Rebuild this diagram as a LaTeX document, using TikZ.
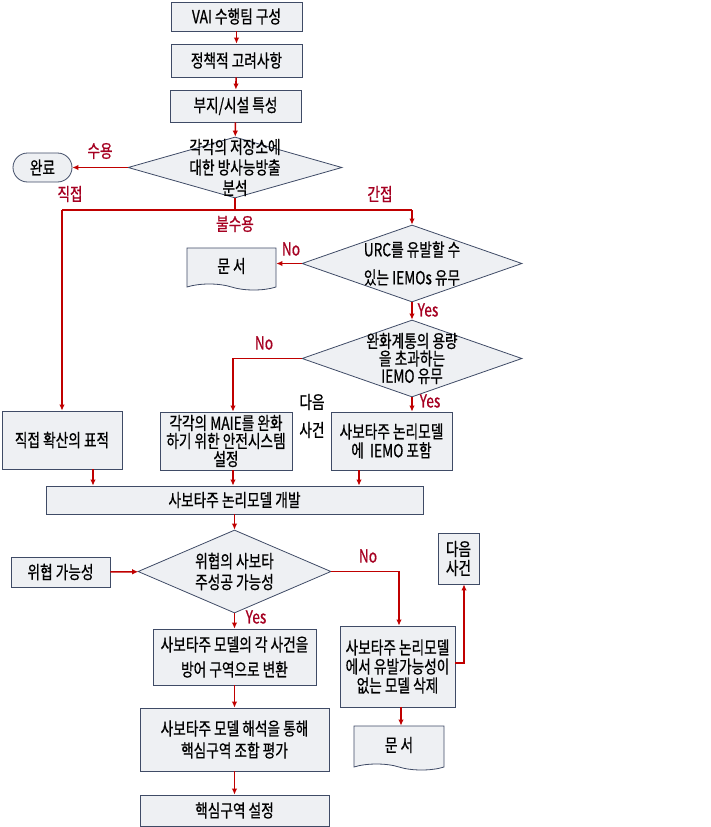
\documentclass[tikz,border=0pt]{standalone}
\usepackage{fontspec}
\setmainfont{Noto Sans CJK KR}[FakeStretch=0.76, FakeBold=0.7]
\usepackage{xcolor}
\usepackage{tikz}
\usetikzlibrary{positioning, shapes.geometric, shapes.misc, shapes.symbols, arrows.meta}

\definecolor{boxfill}{HTML}{EEF0F3}
\definecolor{boxline}{HTML}{3F4B66}
\definecolor{flowred}{HTML}{C00000}
\definecolor{labelred}{HTML}{A50021}

\begin{document}
\begin{tikzpicture}[
    x=1pt, y=-1pt,
    font=\fontsize{18}{19}\selectfont,
    block/.style={rectangle, draw=boxline, line width=0.8pt, fill=boxfill, align=center, inner sep=0pt},
    decision/.style={diamond, draw=boxline, line width=0.8pt, fill=boxfill, inner sep=0pt},
    endpoint/.style={rounded rectangle, draw=boxline, line width=0.8pt, fill=boxfill, inner sep=0pt},
    docu/.style={tape, tape bend top=none, tape bend bottom=out and in, tape bend height=6pt, draw=boxline, line width=0.8pt, fill=boxfill, align=center, inner sep=0pt},
    flow/.style={draw=flowred, line width=1.6pt, -{Latex[length=6pt,width=5.5pt]}},
    line/.style={draw=flowred, line width=1.6pt},
    tag/.style={text=labelred, inner sep=0pt}
]
\useasboundingbox (0,0) rectangle (711,827);

% top chain
\node [block, minimum width=131pt, minimum height=29pt] (team) at (236.5,16.5) {VAI 수행팀 구성};
\node [block, minimum width=131pt, minimum height=33pt] (policy) at (236.5,60.5) {정책적 고려사항};
\node [block, minimum width=131pt, minimum height=32pt] (site) at (235.5,106) {부지/시설 특성};
\node [decision, minimum width=214pt, minimum height=61pt,
       label={[align=center, font=\fontsize{18}{20.5}\selectfont]center:각각의 저장소에\\대한 방사능방출\\분석}] (anal) at (235,167.5) {};
\node [endpoint, minimum width=59pt, minimum height=29pt] (done) at (42.5,167.5) {완료};

% indirect branch
\node [decision, minimum width=220pt, minimum height=77pt,
       label={[align=center]center:URC를 유발할 수\\[9pt]있는 IEMOs 유무}] (iemo) at (412,263.5) {};
\node [docu, minimum width=89pt, minimum height=42pt] (docA) at (231.5,266) {문 서};
\node [decision, minimum width=220pt, minimum height=77pt,
       label={[align=center, font=\fontsize{18}{17.5}\selectfont]center:완화계통의 용량\\을 초과하는\\IEMO 유무}] (cap) at (412,358.5) {};

% third row
\node [block, minimum width=120pt, minimum height=58pt] (direct) at (62,440) {직접 확산의 표적};
\node [block, minimum width=132pt, minimum height=58pt] (maie) at (226,441) {각각의 MAIE를 완화\\[-1pt]하기 위한 안전시스템\\[-1pt]설정};
\node [align=center, inner sep=0pt] (nextlbl) at (312,416) {다음\\[9pt]사건};
\node [block, minimum width=121pt, minimum height=58pt] (incl) at (391.5,441) {사보타주 논리모델\\에 \ IEMO 포함};
\node [block, minimum width=377pt, minimum height=28pt] (dev) at (234.5,500) {사보타주 논리모델 개발};

% sabotage check
\node [decision, minimum width=193pt, minimum height=83pt,
       label={[align=center, font=\fontsize{18}{21}\selectfont]center:위협의 사보타\\주성공 가능성}] (threat) at (234.5,571.5) {};
\node [block, minimum width=99pt, minimum height=30pt] (threatsrc) at (60.5,572) {위협 가능성};
\node [block, minimum width=41pt, minimum height=51pt] (nextev) at (458.5,558.5) {다음\\사건};
\node [block, minimum width=115pt, minimum height=81pt] (remove) at (397.5,666.5) {사보타주 논리모델\\에서 유발가능성이\\없는 모델 삭제};
\node [docu, minimum width=90pt, minimum height=44pt] (docB) at (399,745) {문 서};
\node [block, minimum width=163pt, minimum height=56pt] (conv) at (234.5,657) {사보타주 모델의 각 사건을\\[6pt]방어 구역으로 변환};
\node [block, minimum width=189pt, minimum height=63pt] (eval) at (234.5,739.5) {사보타주 모델 해석을 통해\\[3pt]핵심구역 조합 평가};
\node [block, minimum width=189pt, minimum height=31pt] (zone) at (234.5,810.5) {핵심구역 설정};

% branch points
\coordinate (splitL) at (62,210);
\coordinate (splitR) at (412,210);

% labels
\node [tag] (accept) at (100,151) {수용};
\node [tag] (directlbl) at (70,194) {직접};
\node [tag] (indirectlbl) at (380,194) {간접};
\node [tag] (reject) at (235,224) {불수용};
\node [tag] (noA) at (291,249) {No};
\node [tag] (yesA) at (428,310) {Yes};
\node [tag] (noB) at (264,343) {No};
\node [tag] (yesB) at (430,401) {Yes};
\node [tag] (noC) at (368,556) {No};
\node [tag] (yesC) at (256,617) {Yes};

% connectors
\draw [flow] (team) -- (policy);
\draw [flow] (policy) -- (site);
\draw [flow] (site) -- (anal);
\draw [flow] (anal.west) -- (done.east);
\draw [line] (anal.south) |- (splitL);
\draw [line] (anal.south) |- (splitR);
\draw [flow] (splitL) -- (direct.north);
\draw [flow] (splitR) -- (iemo.north);
\draw [flow] (iemo.west) -- (iemo.west -| docA.east);
\draw [flow] (iemo.south) -- (cap.north);
\draw [flow] (cap.west) -| ([xshift=7pt]maie.north);
\draw [flow] (cap.south) -- (cap.south |- incl.north);
\draw [flow] ([xshift=31pt]direct.south) -- ([xshift=31pt]direct.south |- dev.north);
\draw [flow] ([xshift=7pt]maie.south) -- ([xshift=7pt]maie.south |- dev.north);
\draw [flow] ([xshift=-32.5pt]incl.south) -- ([xshift=-32.5pt]incl.south |- dev.north);
\draw [flow] (dev) -- (threat);
\draw [flow] (threatsrc) -- (threat);
\draw [flow] (threat.east) -| ([xshift=1.5pt]remove.north);
\draw [flow] (threat) -- (conv);
\draw [flow] (conv) -- (eval);
\draw [flow] (eval) -- (zone);
\draw [flow] ([xshift=3.5pt]remove.south) -- ([xshift=3.5pt]remove.south |- docB.north);
\draw [flow] ([yshift=3.5pt]remove.east) -| ([xshift=5.5pt]nextev.south);

\end{tikzpicture}
\end{document}
